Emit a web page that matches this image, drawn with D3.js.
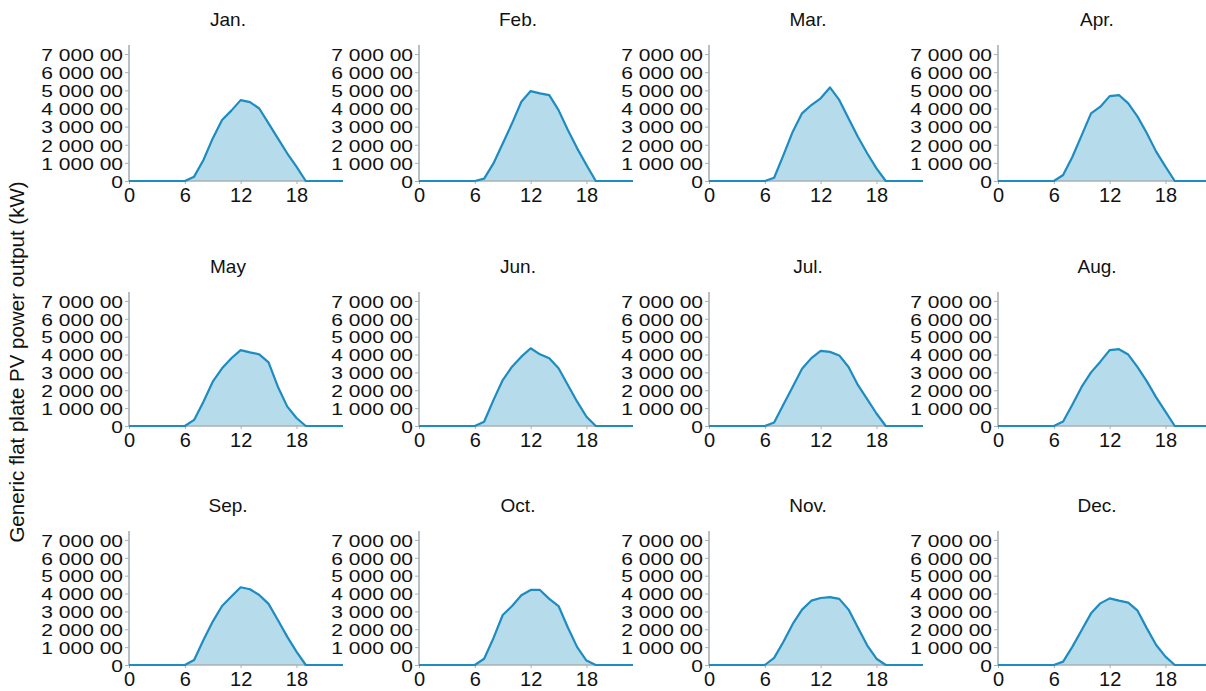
<!DOCTYPE html>
<html>
<head>
<meta charset="utf-8">
<script src="https://cdn.jsdelivr.net/npm/d3@7"></script>
<style>
  body { margin: 0; background: #fff; }
  svg text { font-family: "Liberation Sans", Arial, sans-serif; fill: #111; }
  .axis path, .axis line { stroke: #a9b0b4; }
  .axis path { stroke-width: 1.6; }
</style>
</head>
<body>
<svg id="chart" width="1206" height="691"></svg>
<script>
// hour of day
const hours = [0,1,2,3,4,5,6,7,8,9,10,11,12,13,14,15,16,17,18,19,20,21,22,23];
const months = ['Jan.','Feb.','Mar.','Apr.','May','Jun.','Jul.','Aug.','Sep.','Oct.','Nov.','Dec.'];

// PV output per hour
const jan = [0,0,0,0,0,0,0,24000,116000,235000,336000,388000,446000,435000,400000,318000,235000,153000,79000,0,0,0,0,0];
const feb = [0,0,0,0,0,0,0,13000,97000,207000,318000,437000,496000,483000,474000,391000,281000,180000,88000,0,0,0,0,0];
const mar = [0,0,0,0,0,0,0,18000,143000,272000,373000,419000,456000,516000,447000,345000,244000,153000,70000,0,0,0,0,0];
const apr = [0,0,0,0,0,0,0,33000,134000,253000,373000,410000,468000,474000,428000,355000,263000,162000,79000,0,0,0,0,0];
const may = [0,0,0,0,0,0,0,34000,136000,248000,323000,379000,425000,412000,401000,356000,220000,110000,45000,0,0,0,0,0];
const jun = [0,0,0,0,0,0,0,24000,145000,257000,332000,388000,435000,401000,379000,323000,229000,136000,52000,0,0,0,0,0];
const jul = [0,0,0,0,0,0,0,20000,120000,220000,320000,380000,420000,415000,395000,330000,230000,150000,70000,0,0,0,0,0];
const aug = [0,0,0,0,0,0,0,25000,120000,220000,300000,360000,425000,430000,400000,330000,250000,160000,80000,0,0,0,0,0];
const sep = [0,0,0,0,0,0,0,28000,140000,243000,330000,383000,435000,424000,392000,342000,252000,159000,75000,0,0,0,0,0];
const oct = [0,0,0,0,0,0,0,35000,150000,280000,330000,390000,420000,420000,370000,330000,210000,100000,25000,0,0,0,0,0];
const nov = [0,0,0,0,0,0,0,40000,130000,230000,310000,360000,375000,380000,370000,310000,210000,110000,35000,0,0,0,0,0];
const dec = [0,0,0,0,0,0,0,19000,103000,196000,289000,345000,373000,360000,349000,304000,205000,112000,47000,0,0,0,0,0];
const series = [jan,feb,mar,apr,may,jun,jul,aug,sep,oct,nov,dec];

const yTicks = [0,100000,200000,300000,400000,500000,600000,700000];
const yTickLabels = ['0','1 000 00','2 000 00','3 000 00','4 000 00','5 000 00','6 000 00','7 000 00'];
const xTicks = [0,6,12,18];

const svg = d3.select('#chart');

// panel layout
const colX = [129, 419, 709, 998];
const rowZero = [181, 426, 665];
const rowTop = [45, 292, 531];
const plotW = 214;

series.forEach((vals, i) => {
  const c = i % 4, r = Math.floor(i / 4);
  const x = d3.scaleLinear().domain([0, 23]).range([colX[c], colX[c] + plotW]);
  const y = d3.scaleLinear().domain([0, 750000]).range([rowZero[r], rowTop[r]]);
  const g = svg.append('g');

  g.append('text')
    .attr('x', colX[c] + 99)
    .attr('y', rowTop[r] - 19)
    .attr('text-anchor', 'middle')
    .style('font-size', '19px')
    .text(months[i]);

  const pts = hours.map((h, k) => [h, vals[k]]);

  g.append('path')
    .datum(pts)
    .attr('fill', '#b6dbea')
    .attr('d', d3.area().x(d => x(d[0])).y0(y(0)).y1(d => y(d[1])));

  // axes
  const ya = g.append('g').attr('class', 'axis')
    .attr('transform', `translate(${colX[c]},0)`)
    .call(d3.axisLeft(y).tickValues(yTicks).tickSize(4).tickSizeOuter(0).tickPadding(2)
      .tickFormat((d, k) => yTickLabels[k]));
  ya.selectAll('text')
    .style('font-size', '21px')
    .attr('dy', null)
    .attr('transform', 'translate(0,6.3) scale(1,0.82)');
  ya.select('.domain').attr('d', `M0,${y(0)}V${y(750000)}`);

  const xa = g.append('g').attr('class', 'axis')
    .attr('transform', `translate(0,${rowZero[r]})`)
    .call(d3.axisBottom(x).tickValues(xTicks).tickSize(3).tickSizeOuter(0).tickPadding(4));
  xa.selectAll('text').style('font-size', '20px');
  xa.select('.domain').attr('d', `M${x(0)},0H${x(23)}`);

  g.append('path')
    .datum(pts)
    .attr('fill', 'none')
    .attr('stroke', '#1d8cc0')
    .attr('stroke-width', 2.2)
    .attr('stroke-linejoin', 'round')
    .attr('d', d3.line().x(d => x(d[0])).y(d => y(d[1])));
});

svg.append('text')
  .attr('transform', 'translate(24,362) rotate(-90)')
  .attr('text-anchor', 'middle')
  .style('font-size', '20.5px')
  .text('Generic flat plate PV power output (kW)');
</script>
</body>
</html>
